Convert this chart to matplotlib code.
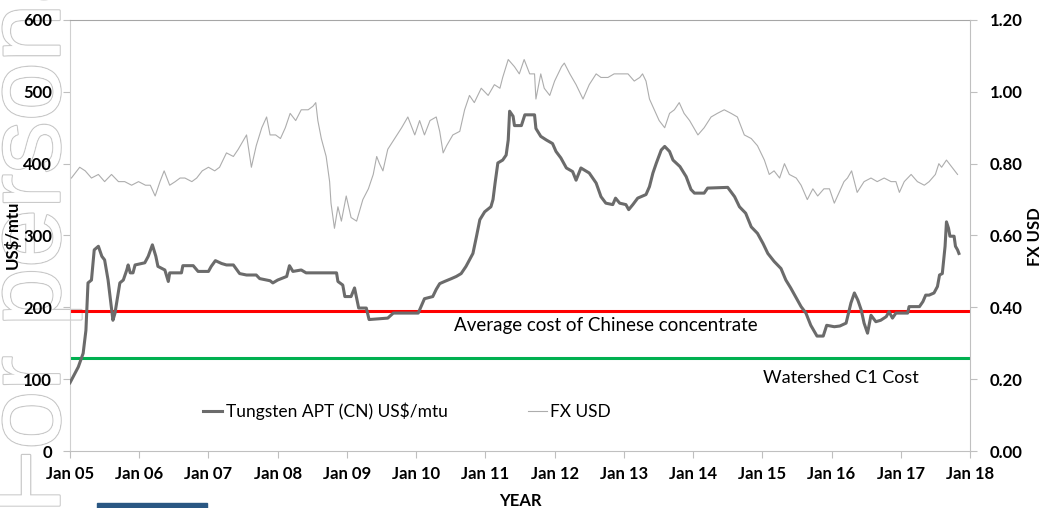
import numpy as np
import matplotlib.pyplot as plt
import matplotlib.patheffects as pe
from matplotlib.patches import Rectangle

plt.rcParams['font.family'] = ['Lato', 'DejaVu Sans']

# Tungsten APT (CN) price, US$/mtu (decimal year, value)
apt_year = [2005.00, 2005.12, 2005.19, 2005.23, 2005.26, 2005.31, 2005.35, 2005.41, 2005.46, 2005.50,
            2005.55, 2005.62, 2005.65, 2005.72, 2005.77, 2005.82, 2005.84, 2005.87, 2005.91, 2005.94,
            2006.08, 2006.13, 2006.19, 2006.24, 2006.27, 2006.37, 2006.42, 2006.44, 2006.61, 2006.63,
            2006.78, 2006.85, 2007.00, 2007.04, 2007.10, 2007.19, 2007.26, 2007.36, 2007.45, 2007.55,
            2007.69, 2007.74, 2007.89, 2007.93, 2008.00, 2008.13, 2008.17, 2008.22, 2008.34, 2008.41,
            2008.85, 2008.87, 2008.94, 2008.97, 2009.06, 2009.11, 2009.14, 2009.17, 2009.28, 2009.32,
            2009.59, 2009.67, 2010.03, 2010.07, 2010.12, 2010.24, 2010.29, 2010.34, 2010.41, 2010.51,
            2010.58, 2010.65, 2010.72, 2010.77, 2010.82, 2010.87, 2010.92, 2010.99, 2011.08, 2011.11,
            2011.14, 2011.18, 2011.25, 2011.30, 2011.33, 2011.35, 2011.40, 2011.42, 2011.52, 2011.57,
            2011.71, 2011.73, 2011.80, 2011.88, 2011.97, 2012.02, 2012.09, 2012.17, 2012.26, 2012.31,
            2012.38, 2012.50, 2012.60, 2012.67, 2012.74, 2012.84, 2012.88, 2012.94, 2013.03, 2013.07,
            2013.13, 2013.20, 2013.32, 2013.37, 2013.42, 2013.47, 2013.54, 2013.59, 2013.66, 2013.71,
            2013.81, 2013.90, 2013.97, 2014.02, 2014.16, 2014.21, 2014.50, 2014.60, 2014.67, 2014.76,
            2014.84, 2014.93, 2015.01, 2015.08, 2015.17, 2015.27, 2015.34, 2015.41, 2015.49, 2015.56,
            2015.63, 2015.70, 2015.79, 2015.88, 2015.93, 2016.04, 2016.12, 2016.21, 2016.28, 2016.33,
            2016.38, 2016.43, 2016.47, 2016.52, 2016.57, 2016.64, 2016.71, 2016.79, 2016.83, 2016.88,
            2016.93, 2017.10, 2017.12, 2017.27, 2017.32, 2017.36, 2017.41, 2017.48, 2017.53, 2017.56,
            2017.60, 2017.64, 2017.66, 2017.69, 2017.71, 2017.77, 2017.79, 2017.82, 2017.84]
apt_price = [95, 117, 136, 168, 234, 238, 280, 285, 271, 266,
             238, 182, 192, 234, 238, 252, 259, 248, 248, 259,
             262, 271, 287, 271, 257, 252, 236, 248, 248, 258,
             258, 250, 250, 257, 265, 261, 259, 259, 247, 245,
             245, 240, 237, 234, 238, 243, 258, 250, 252, 248,
             248, 236, 231, 215, 215, 227, 213, 199, 199, 183,
             185, 192, 192, 201, 212, 215, 225, 233, 236, 240,
             243, 247, 257, 266, 275, 298, 322, 333, 340, 350,
             373, 401, 405, 412, 433, 473, 466, 453, 453, 468,
             468, 449, 438, 433, 428, 417, 408, 394, 389, 377,
             394, 387, 373, 354, 345, 343, 352, 345, 343, 336,
             343, 352, 357, 368, 387, 401, 419, 424, 417, 405,
             396, 382, 364, 359, 359, 366, 367, 354, 340, 331,
             312, 303, 289, 275, 264, 254, 238, 227, 213, 201,
             192, 175, 160, 160, 175, 173, 174, 178, 206, 220,
             210, 196, 178, 164, 189, 180, 182, 187, 194, 185,
             192, 192, 201, 201, 208, 217, 217, 220, 229, 245,
             247, 285, 319, 310, 299, 299, 285, 280, 275]

# FX USD (right axis)
fx_year = [2005.02, 2005.14, 2005.22, 2005.31, 2005.41, 2005.50, 2005.60, 2005.70, 2005.79, 2005.89,
           2005.99, 2006.09, 2006.16, 2006.23, 2006.30, 2006.36, 2006.44, 2006.52, 2006.59, 2006.66,
           2006.76, 2006.83, 2006.91, 2007.00, 2007.09, 2007.16, 2007.26, 2007.36, 2007.43, 2007.55,
           2007.62, 2007.69, 2007.77, 2007.84, 2007.89, 2007.97, 2008.04, 2008.11, 2008.18, 2008.26,
           2008.34, 2008.44, 2008.51, 2008.55, 2008.58, 2008.63, 2008.70, 2008.75, 2008.77, 2008.82,
           2008.87, 2008.92, 2008.99, 2009.06, 2009.14, 2009.23, 2009.31, 2009.38, 2009.43, 2009.47,
           2009.52, 2009.59, 2009.69, 2009.79, 2009.88, 2009.98, 2010.05, 2010.12, 2010.20, 2010.29,
           2010.34, 2010.39, 2010.44, 2010.53, 2010.63, 2010.70, 2010.77, 2010.84, 2010.94, 2011.04,
           2011.13, 2011.21, 2011.25, 2011.33, 2011.42, 2011.49, 2011.56, 2011.64, 2011.71, 2011.73,
           2011.80, 2011.85, 2011.93, 2012.00, 2012.10, 2012.14, 2012.22, 2012.31, 2012.41, 2012.50,
           2012.60, 2012.67, 2012.77, 2012.86, 2012.96, 2013.06, 2013.15, 2013.23, 2013.27, 2013.32,
           2013.37, 2013.44, 2013.51, 2013.59, 2013.66, 2013.73, 2013.80, 2013.87, 2013.95, 2014.07,
           2014.16, 2014.26, 2014.35, 2014.45, 2014.55, 2014.64, 2014.74, 2014.84, 2014.93, 2015.03,
           2015.10, 2015.17, 2015.25, 2015.32, 2015.39, 2015.49, 2015.56, 2015.65, 2015.73, 2015.80,
           2015.89, 2015.97, 2016.04, 2016.11, 2016.18, 2016.23, 2016.29, 2016.37, 2016.47, 2016.57,
           2016.66, 2016.76, 2016.86, 2016.93, 2016.98, 2017.05, 2017.15, 2017.24, 2017.34, 2017.41,
           2017.50, 2017.55, 2017.59, 2017.66, 2017.74, 2017.82]
fx_usd = [0.76, 0.79, 0.78, 0.76, 0.77, 0.75, 0.77, 0.75, 0.75, 0.74,
          0.75, 0.74, 0.74, 0.71, 0.75, 0.78, 0.74, 0.75, 0.76, 0.76,
          0.75, 0.76, 0.78, 0.79, 0.78, 0.79, 0.83, 0.82, 0.84, 0.88,
          0.79, 0.85, 0.90, 0.93, 0.88, 0.88, 0.87, 0.90, 0.94, 0.92,
          0.95, 0.95, 0.96, 0.97, 0.92, 0.87, 0.82, 0.75, 0.69, 0.62,
          0.68, 0.64, 0.71, 0.65, 0.64, 0.70, 0.73, 0.77, 0.82, 0.80,
          0.78, 0.84, 0.87, 0.90, 0.93, 0.88, 0.92, 0.88, 0.92, 0.93,
          0.89, 0.83, 0.85, 0.88, 0.89, 0.95, 0.99, 0.97, 1.01, 0.99,
          1.02, 1.01, 1.04, 1.09, 1.07, 1.05, 1.09, 1.05, 1.05, 0.98,
          1.05, 1.01, 0.99, 1.03, 1.07, 1.08, 1.05, 1.02, 0.98, 1.02,
          1.05, 1.04, 1.04, 1.05, 1.05, 1.05, 1.03, 1.04, 1.05, 1.03,
          0.98, 0.95, 0.92, 0.90, 0.94, 0.95, 0.97, 0.94, 0.92, 0.88,
          0.90, 0.93, 0.94, 0.95, 0.94, 0.93, 0.88, 0.87, 0.85, 0.81,
          0.77, 0.78, 0.76, 0.80, 0.77, 0.76, 0.74, 0.70, 0.73, 0.71,
          0.73, 0.73, 0.69, 0.72, 0.75, 0.76, 0.78, 0.72, 0.75, 0.76,
          0.75, 0.76, 0.75, 0.75, 0.72, 0.75, 0.77, 0.75, 0.74, 0.75,
          0.77, 0.80, 0.79, 0.81, 0.79, 0.77]

chinese_cost = 195
c1_cost = 130

years = list(range(2005, 2019))
year_labels = ['Jan %02d' % (y % 100) for y in years]
left_ticks = [0, 100, 200, 300, 400, 500, 600]
right_ticks = [0.0, 0.2, 0.4, 0.6, 0.8, 1.0, 1.2]

W, H = 1045, 508
fig = plt.figure(figsize=(W / 100, H / 100), dpi=100)

# watermark strip on the left
wm = fig.text(32 / W, -0.012, 'For personal use only', rotation=90, ha='center', va='bottom',
              fontsize=76, family='Liberation Sans', color='white', zorder=-1)
wm.set_path_effects([pe.withStroke(linewidth=1.8, foreground='#c8c8c8'), pe.Normal()])
fig.patches.append(Rectangle((97 / W, 0), 110 / W, 5 / H, transform=fig.transFigure,
                             color='#2a5783', zorder=5))

ax = fig.add_axes([70 / W, 1 - 451 / H, 900 / W, 431 / H])
ax.patch.set_alpha(0)
ax2 = ax.twinx()

l1, = ax.plot(apt_year, apt_price, color='#6b6b6b', lw=2.2, zorder=3,
              label='Tungsten APT (CN) US$/mtu')
ax.axhline(chinese_cost, color='#ff0000', lw=2.2, zorder=2)
ax.axhline(c1_cost, color='#00b050', lw=2.2, zorder=2)
l2, = ax2.plot(fx_year, fx_usd, color='#adadad', lw=0.8, label='FX USD')

ax.set_xlim(2005, 2018)
ax.set_ylim(0, 600)
ax2.set_ylim(0, 1.2)
ax.set_xticks(years)
ax.set_xticklabels(year_labels, fontweight='bold', fontsize=12)
ax.set_yticks(left_ticks)
ax.set_yticklabels([str(v) for v in left_ticks], fontweight='bold', fontsize=12)
ax2.set_yticks(right_ticks)
ax2.set_yticklabels(['%.2f' % v for v in right_ticks], fontweight='bold', fontsize=12)

ax.tick_params(axis='x', length=5, color='#bfbfbf', pad=6)
ax.tick_params(axis='y', length=5, color='#bfbfbf', pad=8)
ax2.tick_params(axis='y', length=5, color='#bfbfbf', pad=9)

ax.spines['right'].set_visible(False)
ax.spines['top'].set_color('#a6a6a6')
ax.spines['left'].set_color('#d0d0d0')
ax.spines['bottom'].set_color('#c0c0c0')
for s in ['top', 'left', 'bottom']:
    ax2.spines[s].set_visible(False)
ax2.spines['right'].set_color('#c0c0c0')

ax.text(2012.74, chinese_cost - 20, 'Average cost of Chinese concentrate', ha='center', va='center',
        fontsize=13.5)
ax.text(2016.14, c1_cost - 28, 'Watershed C1 Cost', ha='center', va='center', fontsize=13)

ax2.legend([l1, l2], [l1.get_label(), l2.get_label()], ncol=2, loc='center left',
           bbox_to_anchor=(0.148, 0.093), frameon=False, fontsize=12.5, handlelength=1.1,
           handletextpad=0.2, columnspacing=4.6, borderpad=0, borderaxespad=0)

fig.text(12 / W, 1 - 235 / H, 'US$/mtu', rotation=90, ha='center', va='center',
         fontweight='bold', fontsize=12)
fig.text(1035 / W, 1 - 237 / H, 'FX USD', rotation=90, ha='center', va='center',
         fontweight='bold', fontsize=12)
fig.text(520 / W, 1 - 501 / H, 'YEAR', ha='center', va='center', fontweight='bold', fontsize=12)

fig.savefig('out.png', dpi=100)
